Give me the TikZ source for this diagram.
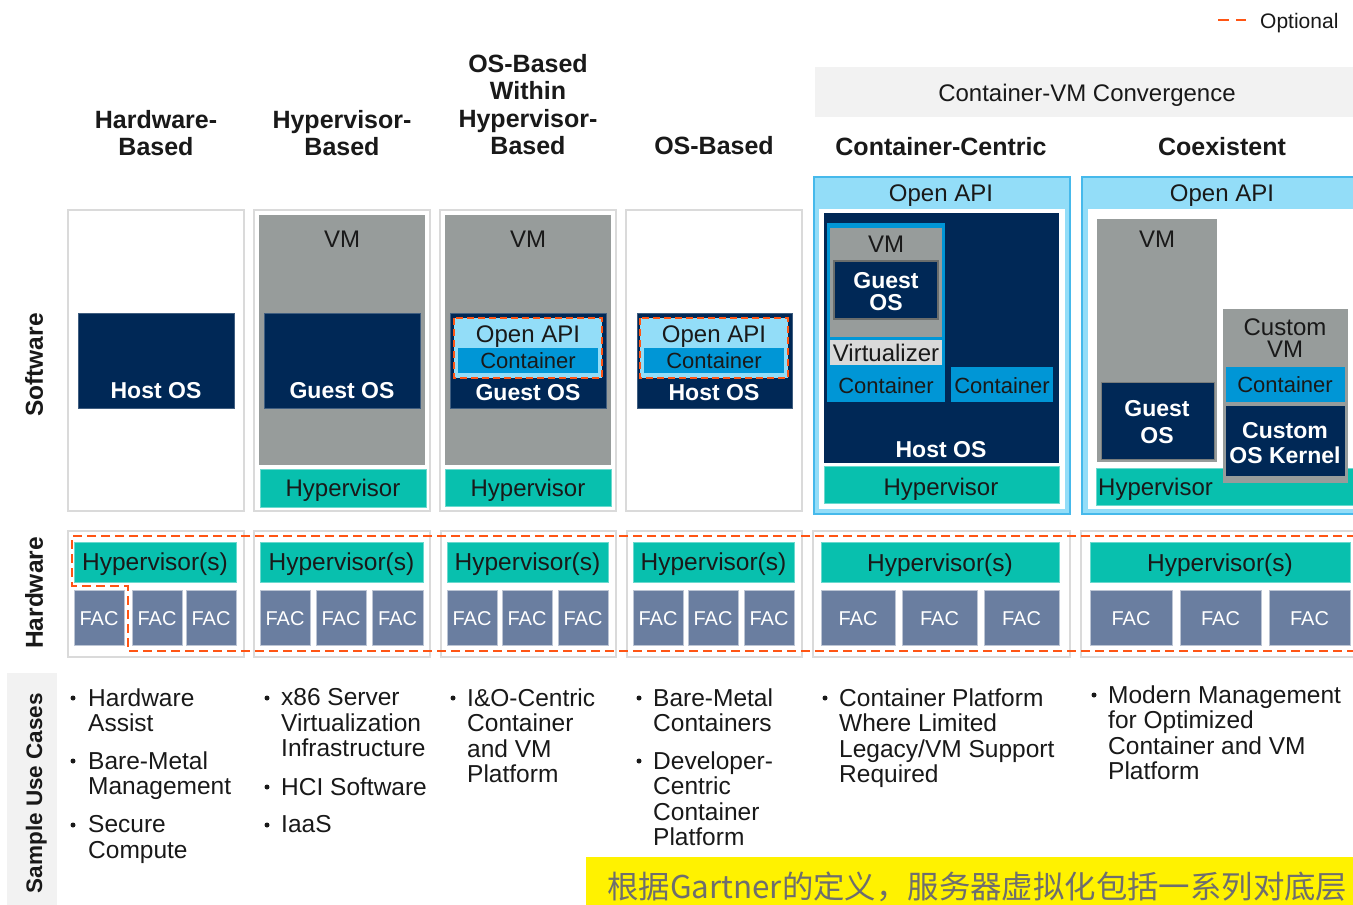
\documentclass[tikz,border=0pt]{standalone}
\usepackage{fontspec}
\setmainfont{Liberation Sans}
\newfontfamily\cjkfont{Noto Sans CJK SC}
\definecolor{navy}{RGB}{0,40,86}
\definecolor{vmgray}{RGB}{151,156,155}
\definecolor{hypteal}{RGB}{8,192,174}
\definecolor{cblue}{RGB}{0,150,214}
\definecolor{lblue}{RGB}{147,221,248}
\definecolor{bblue}{RGB}{70,185,235}
\definecolor{facblue}{RGB}{106,126,160}
\definecolor{lgray}{RGB}{217,217,217}
\definecolor{boxgray}{RGB}{218,218,218}
\definecolor{bandgray}{RGB}{242,242,242}
\definecolor{optorange}{RGB}{255,85,20}
\definecolor{ink}{RGB}{25,25,25}
\definecolor{cjkgray}{RGB}{110,110,110}
\tikzset{
  sz/.code={\pgfmathsetmacro\capht{0.716*#1}\edef\tmpcmd{\noexpand\tikzset{text height=\capht pt}}\tmpcmd\tikzset{font=\fontsize{#1}{#1}\selectfont,text depth=0pt,inner sep=0pt}},
  ml/.code 2 args={\tikzset{font=\fontsize{#1}{#2}\selectfont,inner sep=0pt,align=center,anchor=north}},
  bf/.style={execute at begin node=\bfseries},
  colbox/.style={draw=boxgray, line width=1.5pt, fill=white},
  navyb/.style={fill=navy, draw=navy!75!white, line width=0.8pt},
  vmb/.style={fill=vmgray},
  tealb/.style={fill=hypteal, draw=hypteal!60!white, line width=0.8pt},
  facb/.style={fill=facblue, draw=facblue!45!white, line width=0.8pt},
  contb/.style={fill=cblue},
  apib/.style={fill=lblue},
  optline/.style={draw=optorange, line width=2.4pt, dash pattern=on 9pt off 5pt},
  optbox/.style={draw=optorange, line width=2pt, dash pattern=on 7pt off 4pt},
  wt/.style={text=white},
  bk/.style={text=ink},
  bul/.style={circle, fill=ink, inner sep=0pt, minimum size=5pt},
}
\begin{document}
\begin{tikzpicture}[x=1pt,y=-1pt]
\useasboundingbox (0,0) rectangle (1353,905);
\fill[white] (0,0) rectangle (1353,905);
\begin{scope}
\clip (0,0) rectangle (1353,905);

% legend
\draw[optorange, line width=2.5pt] (1218,20) -- (1229,20) (1236,20) -- (1246,20);
\node[sz=21, bk, anchor=west] (legend) at (1260,20.5) {Optional};

% convergence band
\fill[bandgray] (815,67) rectangle (1360,117);
\node[sz=24, bk] (conv) at (1087,93) {Container-VM Convergence};

% headers
\node[ml={25}{27.5}, bf, bk] (h1) at (156,110) {Hardware-\\Based};
\node[ml={25}{27.5}, bf, bk] (h2) at (342,110) {Hypervisor-\\Based};
\node[ml={25}{27.5}, bf, bk] (h3) at (528,54) {OS-Based\\Within\\Hypervisor-\\Based};
\node[sz=25, bf, bk] (h4) at (714,146) {OS-Based};
\node[sz=25, bf, bk] (h5) at (941,147) {Container-Centric};
\node[sz=25, bf, bk] (h6) at (1222,147) {Coexistent};

% row labels
\node[sz=24.5, bf, bk, rotate=90] (lsw) at (34,365) {Software};
\node[sz=24.5, bf, bk, rotate=90] (lhw) at (34,593) {Hardware};
\fill[bandgray] (7,673) rectangle (57,905);
\node[sz=22.5, bf, bk, rotate=90] (luc) at (34,793) {Sample Use Cases};

% ---------- software row ----------
% column 1
\path[colbox] (68,210) rectangle (244,511);
\path[navyb] (78,313) rectangle (234,408);
\node[sz=23, bf, wt] (c1host) at (156,390) {Host OS};

% column 2
\path[colbox] (254,210) rectangle (430,511);
\path[vmb] (259,215) rectangle (425,465);
\node[sz=24, bk] (c2vm) at (342,239) {VM};
\path[navyb] (264,313) rectangle (420,408);
\node[sz=23, bf, wt] (c2guest) at (342,390) {Guest OS};
\path[tealb] (260,469) rectangle (426,507);
\node[sz=24, bk] (c2hyp) at (343,488) {Hypervisor};

% column 3
\path[colbox] (440,210) rectangle (616,511);
\path[vmb] (445,215) rectangle (611,465);
\node[sz=24, bk] (c3vm) at (528,239) {VM};
\path[navyb] (450,313) rectangle (606,408);
\path[apib] (454,318) rectangle (602,378);
\path[contb] (458,348) rectangle (598,373);
\path[optbox] (454,318) rectangle (602,378);
\node[sz=24, bk] (c3api) at (528,334) {Open API};
\node[sz=22, bk] (c3cont) at (528,361) {Container};
\node[sz=23, bf, wt] (c3guest) at (528,392) {Guest OS};
\path[tealb] (445,469) rectangle (611,506);
\node[sz=24, bk] (c3hyp) at (528,488) {Hypervisor};

% column 4
\path[colbox] (626,210) rectangle (802,511);
\path[navyb] (637,313) rectangle (792,408);
\path[apib] (640,318) rectangle (788,378);
\path[contb] (644,348) rectangle (784,373);
\path[optbox] (640,318) rectangle (788,378);
\node[sz=24, bk] (c4api) at (714,334) {Open API};
\node[sz=22, bk] (c4cont) at (714,361) {Container};
\node[sz=23, bf, wt] (c4host) at (714,392) {Host OS};

% column 5 (container-centric)
\path[fill=lblue, draw=bblue, line width=2pt] (814,177) rectangle (1070,514);
\fill[white] (819,209) rectangle (1065,509);
\node[sz=24, bk] (c5api) at (941,193) {Open API};
\path[fill=navy] (824,213) rectangle (1059,463);
\path[contb] (827,223) rectangle (945,402);
\path[vmb] (830,228) rectangle (942,337);
\node[sz=24, bk] (c5vm) at (886,244) {VM};
\path[fill=navy, draw=vmgray!70!black, line width=1.5pt] (834,261) rectangle (938,319);
\node[ml={23}{22}, bf, wt] (c5guest) at (886,271.8) {Guest\\OS};
\path[fill=lgray] (830,340) rectangle (942,365);
\node[sz=24, bk] (c5virt) at (886,353) {Virtualizer};
\node[sz=22, bk] (c5cont1) at (886,386) {Container};
\path[contb] (951,367) rectangle (1053,402);
\node[sz=22, bk] (c5cont2) at (1002,386) {Container};
\node[sz=23, bf, wt] (c5host) at (941,449) {Host OS};
\path[tealb] (824,466) rectangle (1059,503);
\node[sz=24, bk] (c5hyp) at (941,487) {Hypervisor};

% column 6 (coexistent)
\path[fill=lblue, draw=bblue, line width=2pt] (1082,177) rectangle (1370,514);
\fill[white] (1088,209) rectangle (1370,509);
\node[sz=24, bk] (c6api) at (1222,193) {Open API};
\path[tealb] (1096,468) rectangle (1370,505);
\node[sz=24, bk, anchor=west] (c6hyp) at (1098,487) {Hypervisor};
\path[vmb] (1097,219) rectangle (1217,462);
\node[sz=24, bk] (c6vm) at (1157,239) {VM};
\path[fill=navy, draw=vmgray!80!black, line width=1pt] (1101,382) rectangle (1214,459);
\node[ml={23}{27}, bf, wt] (c6guest) at (1157,399.8) {Guest\\OS};
\path[vmb] (1223,309) rectangle (1348,483);
\node[ml={24}{22}, bk] (c6cvm) at (1285,318.4) {Custom\\VM};
\path[contb] (1226,367) rectangle (1345,402);
\node[sz=22, bk] (c6cont) at (1285,385) {Container};
\path[fill=navy] (1226,406) rectangle (1345,476);
\node[ml={23}{25}, bf, wt] (c6kern) at (1285,421.8) {Custom\\OS Kernel};

% ---------- hardware row ----------
\path[colbox] (68,531) rectangle (244,657);
\path[colbox] (254,531) rectangle (430,657);
\path[colbox] (441,531) rectangle (616,657);
\path[colbox] (627,531) rectangle (802,657);
\path[colbox] (813,531) rectangle (1070,657);
\path[colbox] (1081,531) rectangle (1370,657);

\path[tealb] (74,542) rectangle (236,582);
\path[tealb] (260,542) rectangle (423,582);
\path[tealb] (447,542) rectangle (608,582);
\path[tealb] (633,542) rectangle (794,582);
\path[tealb] (821,542) rectangle (1059,582);
\path[tealb] (1090,542) rectangle (1350,582);
\node[sz=24.5, bk] (hw1) at (155,562) {Hypervisor(s)};
\node[sz=24.5, bk] (hw2) at (341.5,562) {Hypervisor(s)};
\node[sz=24.5, bk] (hw3) at (527.5,562) {Hypervisor(s)};
\node[sz=24.5, bk] (hw4) at (713.5,562) {Hypervisor(s)};
\node[sz=24.5, bk] (hw5) at (940,563) {Hypervisor(s)};
\node[sz=24.5, bk] (hw6) at (1220,563) {Hypervisor(s)};

\foreach \a/\b/\n in {74/124/f11,132/182/f12,186/236/f13,
                      260/310/f21,316/366/f22,372/423/f23,
                      447/497/f31,502/552/f32,558/608/f33,
                      633/683/f41,688/738/f42,744/794/f43,
                      821/895/f51,902/977/f52,984/1059/f53,
                      1090/1172/f61,1180/1261/f62,1269/1350/f63}{
  \path[facb] (\a,590) rectangle (\b,645);
  \node[sz=20, wt] (\n) at ({(\a+\b)/2},618) {FAC};
}

\path[optline] (1370,536) -- (72,536) -- (72,586) -- (128,586) -- (128,651) -- (1370,651);

% ---------- sample use cases ----------
\node[bul] (b11) at (73,698) {};
\node[ml={24.5}{25.5}, anchor=north west, align=left, bk] (u11) at (88,688.2) {Hardware\\Assist};
\node[bul] (b12) at (73,761) {};
\node[ml={24.5}{25.5}, anchor=north west, align=left, bk] (u12) at (88,751.2) {Bare-Metal\\Management};
\node[bul] (b13) at (73,825) {};
\node[ml={24.5}{25.5}, anchor=north west, align=left, bk] (u13) at (88,815.2) {Secure\\Compute};

\node[bul] (b21) at (267,698) {};
\node[ml={24.5}{25.5}, anchor=north west, align=left, bk] (u21) at (281,688.2) {x86 Server\\Virtualization\\Infrastructure};
\node[bul] (b22) at (267,787) {};
\node[ml={24.5}{25.5}, anchor=north west, align=left, bk] (u22) at (281,777.2) {HCI Software};
\node[bul] (b23) at (267,825) {};
\node[ml={24.5}{25.5}, anchor=north west, align=left, bk] (u23) at (281,815.2) {IaaS};

\node[bul] (b31) at (453,698) {};
\node[ml={24.5}{25.5}, anchor=north west, align=left, bk] (u31) at (467,688.2) {I\&O-Centric\\Container\\and VM\\Platform};

\node[bul] (b41) at (639,698) {};
\node[ml={24.5}{25.5}, anchor=north west, align=left, bk] (u41) at (653,688.2) {Bare-Metal\\Containers};
\node[bul] (b42) at (639,761) {};
\node[ml={24.5}{25.5}, anchor=north west, align=left, bk] (u42) at (653,751.2) {Developer-\\Centric\\Container\\Platform};

\node[bul] (b51) at (825,698) {};
\node[ml={24.5}{25.5}, anchor=north west, align=left, bk] (u51) at (839,688.2) {Container Platform\\Where Limited\\Legacy/VM Support\\Required};

\node[bul] (b61) at (1094,695) {};
\node[ml={24.5}{25.5}, anchor=north west, align=left, bk] (u61) at (1108,685.2) {Modern Management\\for Optimized\\Container and VM\\Platform};

% ---------- yellow banner ----------
\fill[yellow] (586,857) rectangle (1370,905);
\node[font=\cjkfont\fontsize{31.4}{31.4}\selectfont, text=cjkgray, anchor=west, inner sep=0pt] (banner) at (607,887) {根据Gartner的定义，服务器虚拟化包括一系列对底层};
\end{scope}
\end{tikzpicture}
\end{document}
